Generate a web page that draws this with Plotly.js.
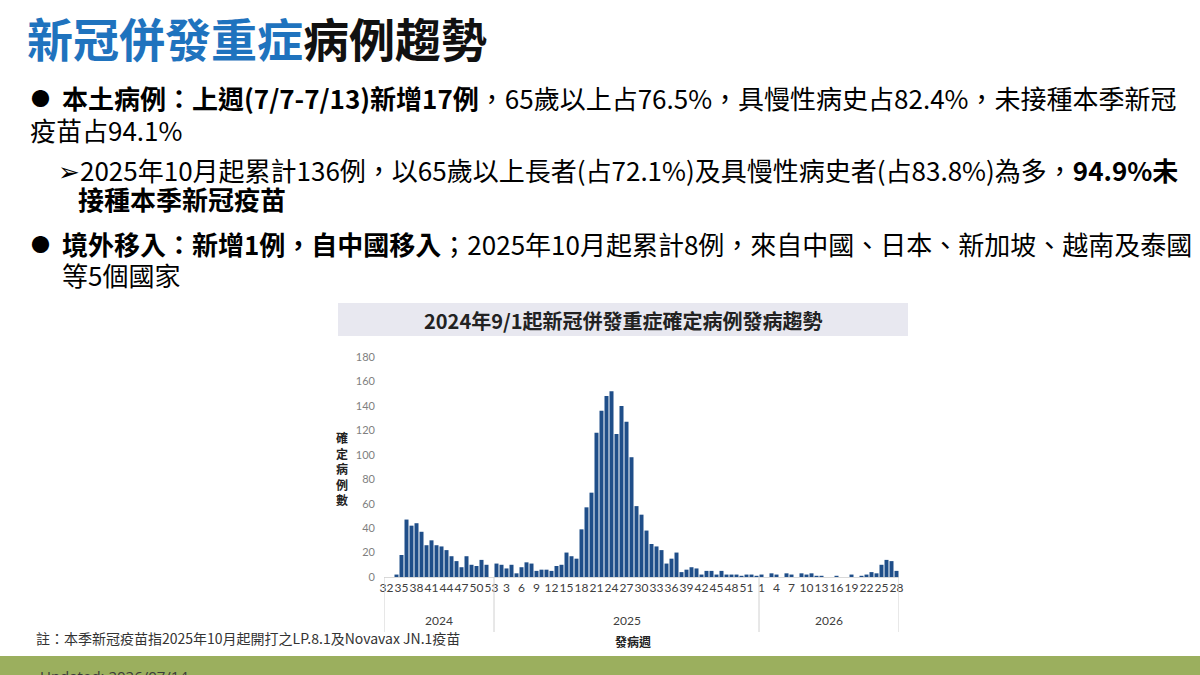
<!DOCTYPE html>
<html>
<head>
<meta charset="utf-8">
<script src="https://cdn.plot.ly/plotly-3.0.1.min.js"></script>
<style>
html,body{margin:0;padding:0;background:#ffffff;}
#chart{width:1200px;height:675px;}
</style>
</head>
<body>
<div id="chart"></div>
<script>
// ---------------- DATA ----------------
const years = [2024, 2025, 2026];
const weeks2024 = [32,33,34,35,36,37,38,39,40,41,42,43,44,45,46,47,48,49,50,51,52,53];
const weeks2025 = [1,2,3,4,5,6,7,8,9,10,11,12,13,14,15,16,17,18,19,20,21,22,23,24,25,26,27,28,29,30,31,32,33,34,35,36,37,38,39,40,41,42,43,44,45,46,47,48,49,50,51,52,53];
const weeks2026 = [1,2,3,4,5,6,7,8,9,10,11,12,13,14,15,16,17,18,19,20,21,22,23,24,25,26,27,28];
const cases2024 = [0,0,2,18,47,42,44,37,26,30,26,25,22,17,13,8,17,10,9,14,10,0];
const cases2025 = [11,10,7,10,3,8,12,11,5,6,6,5,9,10,20,17,15,39,57,69,118,136,148,152,117,140,127,98,58,51,38,27,25,22,11,15,20,4,6,8,7,2,5,5,2,5,2,2,2,1,2,2,1];
const cases2026 = [2,0,3,2,0,3,2,0,3,2,3,1,1,0,0,1,0,0,2,0,1,2,4,3,10,14,13,5];
const yTickVals = [0,20,40,60,80,100,120,140,160,180];
const labelEvery = 3;

// ---------------- BUILD ----------------
const weeksByYear = [weeks2024, weeks2025, weeks2026];
const casesByYear = [cases2024, cases2025, cases2026];
const cats = [], vals = [], wk = [];
const groupStart = [];
years.forEach((yr, gi) => {
  groupStart.push(cats.length);
  weeksByYear[gi].forEach((w, i) => {
    cats.push(yr + '-' + w);
    vals.push(casesByYear[gi][i]);
    wk.push(w);
  });
});
const nCats = cats.length;
const tickvals = [], ticktext = [];
for (let i = 0; i < nCats; i += labelEvery) { tickvals.push(cats[i]); ticktext.push(String(wk[i])); }

// plot-area pixel box
const L = 384, R = 899, T = 357, B = 577;
const px = x => (x - L) / (R - L);
const py = y => (B - y) / (B - T);

const CJK = '"Noto Sans CJK TC", "Noto Sans CJK SC", sans-serif';
const annotations = [];
const shapes = [];

function txt(x, y, text, size, opts) {
  annotations.push(Object.assign({
    xref: 'paper', yref: 'paper', x: px(x), y: py(y),
    xanchor: 'left', yanchor: 'middle', showarrow: false, text: text,
    font: {family: CJK, size: size, color: '#000000'}
  }, opts || {}));
}

// Title
txt(25, 37, '<span style="color:#1F73BE">新冠併發重症</span>病例趨勢', 46, {font:{family:CJK,size:46,color:'#111111',weight:'bold'}});

// Bullets
txt(29, 97, '●', 19);
txt(60, 97, '<b>本土病例：上週(7/7-7/13)新增17例</b>，65歲以上占76.5%，具慢性病史占82.4%，未接種本季新冠', 26);
txt(28, 129, '疫苗占94.1%', 26);
txt(56, 170, '➢2025年10月起累計136例，以65歲以上長者(占72.1%)及具慢性病史者(占83.8%)為多，<b>94.9%未</b>', 26);
txt(76, 199, '<b>接種本季新冠疫苗</b>', 26);
txt(29, 243, '●', 19);
txt(60, 243, '<b>境外移入：新增1例，自中國移入</b>；2025年10月起累計8例，來自中國、日本、新加坡、越南及泰國', 26);
txt(60, 274, '等5個國家', 26);

// Chart title box
shapes.push({type:'rect', xref:'paper', yref:'paper', x0:px(338), x1:px(908), y0:py(336), y1:py(303), fillcolor:'#E8E8F0', line:{width:0}, layer:'below'});
txt(623, 320, '2024年9/1起新冠併發重症確定病例發病趨勢', 20, {xanchor:'center', font:{family:CJK,size:20,color:'#222222',weight:'bold'}});

// y-axis title (stacked)
txt(342, 468, '確<br>定<br>病<br>例<br>數', 12, {xanchor:'center', font:{family:CJK,size:12,color:'#222222',weight:'bold'}});

// group dividers and year labels
const bounds = groupStart.concat([nCats]);
bounds.forEach(b => {
  shapes.push({type:'line', xref:'x', yref:'paper', x0:b-0.5, x1:b-0.5, y0:0, y1:py(632), line:{color:'#D0D0D0', width:1}});
});
years.forEach((yr, gi) => {
  const mid = (bounds[gi] + bounds[gi+1] - 1) / 2;
  annotations.push({xref:'x', yref:'paper', x:mid, y:py(620), text:String(yr), showarrow:false,
    xanchor:'center', yanchor:'middle', font:{family:'Lato, "Liberation Sans", sans-serif', size:12, color:'#404040'}});
});

// x-axis title
txt(633, 641, '發病週', 12, {xanchor:'center', font:{family:CJK,size:12,color:'#222222',weight:'bold'}});

// footnote
txt(34, 638, '註：本季新冠疫苗指2025年10月起開打之LP.8.1及Novavax JN.1疫苗', 14, {font:{family:CJK,size:14,color:'#333333'}});

// bottom band
shapes.push({type:'rect', xref:'paper', yref:'paper', x0:px(0), x1:px(1200), y0:py(676), y1:py(656), fillcolor:'#9BAF5E', line:{width:0}, layer:'below'});
txt(38, 676, 'Updated: 2026/07/14', 15, {font:{family:'"Open Sans", sans-serif', size:15, color:'#3a3a3a'}});

const trace = {
  type: 'bar', x: cats, y: vals,
  marker: {color: '#1F4E89', line: {width: 0}},
  hoverinfo: 'x+y'
};

const layout = {
  width: 1200, height: 675,
  margin: {l: L, r: 1200 - R, t: T, b: 675 - B, pad: 0},
  paper_bgcolor: '#ffffff', plot_bgcolor: '#ffffff',
  showlegend: false, bargap: 0.2,
  xaxis: {
    type: 'category', categoryorder: 'array', categoryarray: cats,
    range: [-0.5, nCats - 0.5],
    tickmode: 'array', tickvals: tickvals, ticktext: ticktext, tickangle: 0,
    tickfont: {family: 'Lato, "Liberation Sans", sans-serif', size: 12, color: '#404040'},
    ticks: '', ticklen: 0, showgrid: false, zeroline: false,
    showline: true, linecolor: '#D9D9D9', linewidth: 1, fixedrange: true
  },
  yaxis: {
    range: [0, 180], tickmode: 'array', tickvals: yTickVals,
    tickfont: {family: 'Lato, "Liberation Sans", sans-serif', size: 11, color: '#7F7F7F'},
    showgrid: false, zeroline: false, showline: false, ticks: '', ticklabelstandoff: 8, fixedrange: true
  },
  annotations: annotations,
  shapes: shapes
};

Plotly.newPlot('chart', [trace], layout, {displayModeBar: false, staticPlot: true});
</script>
</body>
</html>
